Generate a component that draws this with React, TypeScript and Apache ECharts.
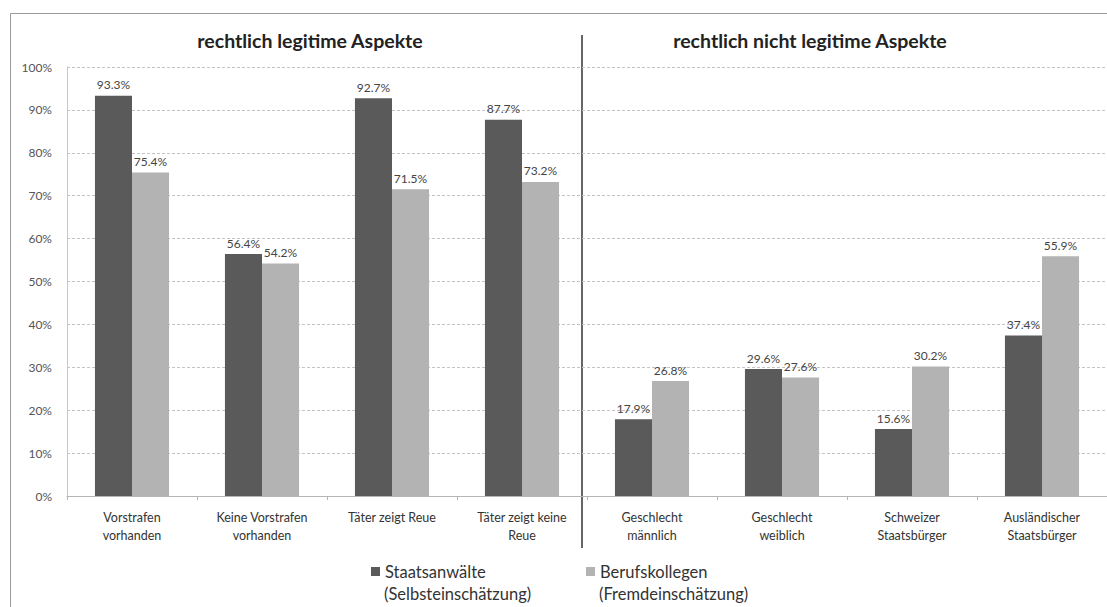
import React, { useEffect, useRef } from "react";
import * as echarts from "echarts";

const categories = [
  "Vorstrafen\nvorhanden",
  "Keine Vorstrafen\nvorhanden",
  "Täter zeigt Reue",
  "Täter zeigt keine\nReue",
  "Geschlecht\nmännlich",
  "Geschlecht\nweiblich",
  "Schweizer\nStaatsbürger",
  "Ausländischer\nStaatsbürger",
];
const seriesNames = ["Staatsanwälte (Selbsteinschätzung)", "Berufskollegen (Fremdeinschätzung)"];
const staatsanwaelte = [93.3, 56.4, 92.7, 87.7, 17.9, 29.6, 15.6, 37.4];
const berufskollegen = [75.4, 54.2, 71.5, 73.2, 26.8, 27.6, 30.2, 55.9];
const groupTitles = ["rechtlich legitime Aspekte", "rechtlich nicht legitime Aspekte"];

const FONT = "Lato, 'Noto Sans', sans-serif";
const DARK = "#5a5a5a";
const LIGHT = "#b3b3b3";

export default function App() {
  const ref = useRef<HTMLDivElement>(null);
  useEffect(() => {
    if (!ref.current) return;
    const chart = echarts.init(ref.current, null, { renderer: "svg" });
    const labelCfg = {
      show: true,
      position: "top",
      distance: 5,
      fontSize: 12,
      color: "#444",
      fontFamily: FONT,
      formatter: (p: any) => p.value.toFixed(1) + "%",
    };
    const legendBase = {
      orient: "horizontal",
      padding: 0,
      itemWidth: 9,
      itemHeight: 9,
      icon: "rect",
      itemGap: 4,
      textStyle: { fontSize: 16.5, color: "#333", fontFamily: FONT },
      formatter: (n: string) => n.split(" (")[0],
      selectedMode: false,
    };
    chart.setOption({
      animation: false,
      backgroundColor: "#fff",
      textStyle: { fontFamily: FONT },
      grid: { left: 67, top: 67, width: 1046, height: 429, containLabel: false },
      xAxis: {
        type: "category",
        data: categories,
        axisLine: { show: true, lineStyle: { color: "#b5b5b5", width: 1 } },
        axisTick: { show: true, alignWithLabel: false, length: 4, lineStyle: { color: "#b5b5b5" } },
        axisLabel: { fontSize: 12.5, lineHeight: 18, margin: 12, color: "#333", fontFamily: FONT, interval: 0 },
      },
      yAxis: {
        type: "value",
        min: 0,
        max: 100,
        interval: 10,
        axisLine: { show: true, lineStyle: { color: "#c8c8c8" } },
        axisTick: { show: false },
        axisLabel: { formatter: "{value}%", fontSize: 12, color: "#555", margin: 15, fontFamily: FONT },
        splitLine: { show: true, lineStyle: { color: "#c4c4c4", type: [3, 2], width: 1 } },
      },
      legend: [
        { ...legendBase, data: [seriesNames[0]], left: 371, top: 563 },
        { ...legendBase, data: [seriesNames[1]], left: 586, top: 563 },
      ],
      series: [
        {
          name: seriesNames[0],
          type: "bar",
          data: staatsanwaelte,
          barGap: "0%",
          barCategoryGap: "43%",
          itemStyle: { color: DARK },
          label: labelCfg,
        },
        {
          name: seriesNames[1],
          type: "bar",
          data: berufskollegen,
          barGap: "0%",
          barCategoryGap: "43%",
          itemStyle: { color: LIGHT },
          label: labelCfg,
        },
      ],
      graphic: [
        {
          type: "rect",
          shape: { x: 10.5, y: 13.5, width: 1200, height: 700 },
          style: { fill: "none", stroke: "#9a9a9a", lineWidth: 1 },
          silent: true,
        },
        {
          type: "line",
          shape: { x1: 582, y1: 35, x2: 582, y2: 548 },
          style: { stroke: "#333", lineWidth: 1.5 },
          silent: true,
        },
        {
          type: "text",
          x: 310,
          y: 40,
          style: {
            text: groupTitles[0],
            fontSize: 19.5,
            fontWeight: "bold",
            fill: "#222",
            fontFamily: FONT,
            textAlign: "center",
            textVerticalAlign: "middle",
          },
        },
        {
          type: "text",
          x: 810,
          y: 40,
          style: {
            text: groupTitles[1],
            fontSize: 19.5,
            fontWeight: "bold",
            fill: "#222",
            fontFamily: FONT,
            textAlign: "center",
            textVerticalAlign: "middle",
          },
        },
        {
          type: "text",
          x: 384,
          y: 594,
          style: {
            text: "(" + seriesNames[0].split(" (")[1],
            fontSize: 16.5,
            fill: "#333",
            fontFamily: FONT,
            textAlign: "left",
            textVerticalAlign: "middle",
          },
        },
        {
          type: "text",
          x: 599,
          y: 594,
          style: {
            text: "(" + seriesNames[1].split(" (")[1],
            fontSize: 16.5,
            fill: "#333",
            fontFamily: FONT,
            textAlign: "left",
            textVerticalAlign: "middle",
          },
        },
      ],
    });
    return () => chart.dispose();
  }, []);
  return (
    <div
      ref={ref}
      style={{ position: "fixed", left: 0, top: 0, width: 1107, height: 607, background: "#fff" }}
    />
  );
}
